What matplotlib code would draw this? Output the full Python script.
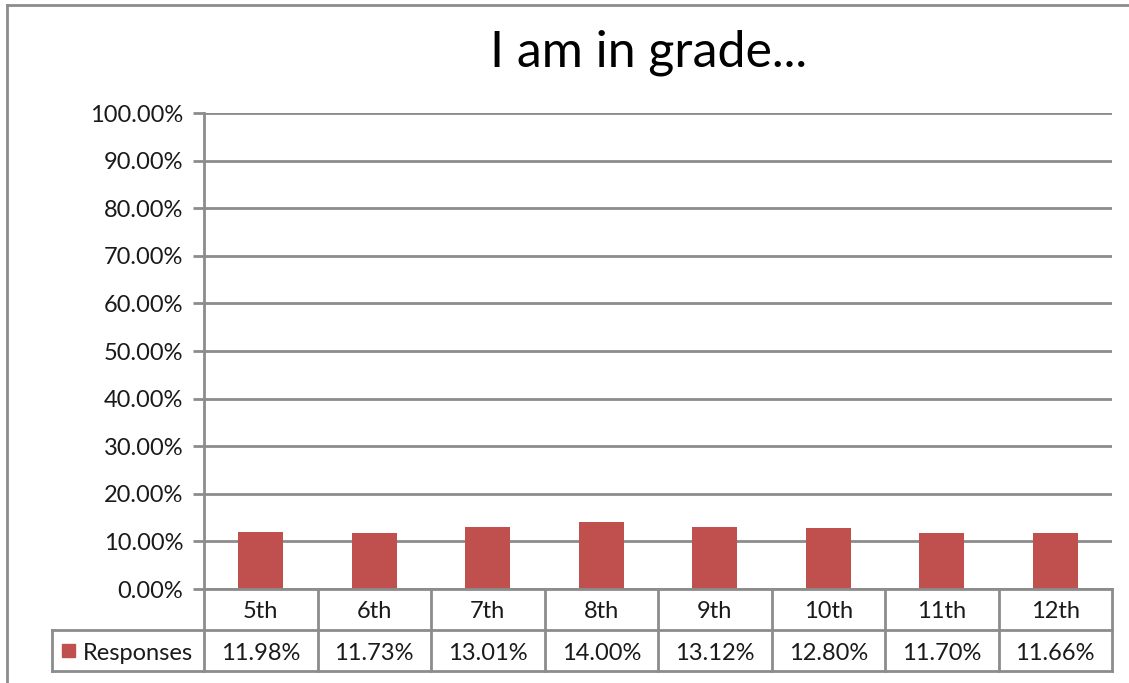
import matplotlib.pyplot as plt
import matplotlib.transforms as mtransforms
from matplotlib.lines import Line2D
from matplotlib.patches import Rectangle

grades = ['5th', '6th', '7th', '8th', '9th', '10th', '11th', '12th']
responses = [11.98, 11.73, 13.01, 14.00, 13.12, 12.80, 11.70, 11.66]
series_name = 'Responses'
yticks = [0, 10, 20, 30, 40, 50, 60, 70, 80, 90, 100]

plt.rcParams['font.family'] = ['Lato', 'DejaVu Sans']
bar_color = '#C0504D'
line_color = '#8C8C8C'
text_color = '#1A1A1A'
fs = 17

W, H = 1129, 683
fig = plt.figure(figsize=(W / 100, H / 100), dpi=100)

# axes box in pixels: left 204, right 1112, top 113, bottom 589
ax = fig.add_axes([204 / W, 1 - 589 / H, (1112 - 204) / W, (589 - 113) / H])

x = list(range(len(grades)))
ax.bar(x, responses, width=0.4, color=bar_color, zorder=3)
ax.set_xlim(-0.5, len(grades) - 0.5)
ax.set_ylim(0, 100)
ax.set_yticks(yticks)
ax.set_yticklabels([f'{v:.2f}%' for v in yticks], fontsize=fs, color=text_color)
ax.tick_params(axis='y', length=8, width=2, color=line_color, pad=7)
ax.set_xticks([])
ax.yaxis.grid(True, color=line_color, linewidth=2, zorder=0)
for s in ['top', 'right', 'bottom']:
    ax.spines[s].set_visible(False)
ax.spines['left'].set_color(line_color)
ax.spines['left'].set_linewidth(2)

# data table under the plot
trans = mtransforms.blended_transform_factory(ax.transData, ax.transAxes)
ah = 589 - 113
r1 = -41 / ah
r2 = -82 / ah
leg_left = -0.5 - 152 / 113.5
lw = 2
def tline(xs, ys):
    ax.add_line(Line2D(xs, ys, transform=trans, color=line_color, lw=lw, clip_on=False, zorder=4))

tline([-0.5, len(grades) - 0.5], [0, 0])
tline([leg_left, len(grades) - 0.5], [r1, r1])
tline([leg_left, len(grades) - 0.5], [r2, r2])
for b in range(len(grades) + 1):
    tline([b - 0.5, b - 0.5], [0, r2])
tline([leg_left, leg_left], [r1, r2])

off = -2.5 / ah
for i, (g, v) in enumerate(zip(grades, responses)):
    ax.text(i, r1 / 2 + off, g, transform=trans, ha='center', va='center', fontsize=fs, color=text_color)
    ax.text(i, (r1 + r2) / 2 + off, f'{v:.2f}%', transform=trans, ha='center', va='center', fontsize=fs, color=text_color)

ax.add_patch(Rectangle((leg_left + 0.09, (r1 + r2) / 2 - 0.013), 0.11, 0.026, transform=trans,
                       color=bar_color, clip_on=False))
ax.text(leg_left + 0.27, (r1 + r2) / 2 + off, series_name, transform=trans, ha='left', va='center',
        fontsize=fs, color=text_color)

fig.text(649 / W, 1 - 53 / H, 'I am in grade...', ha='center', va='center', fontsize=36, color='#000000')

# outer chart border
fig.add_artist(Line2D([7 / W, 7 / W], [0, 1 - 5 / H], transform=fig.transFigure, color=line_color, lw=2))
fig.add_artist(Line2D([7 / W, 1], [1 - 5 / H, 1 - 5 / H], transform=fig.transFigure, color=line_color, lw=2))

fig.savefig('out.png', dpi=100)
